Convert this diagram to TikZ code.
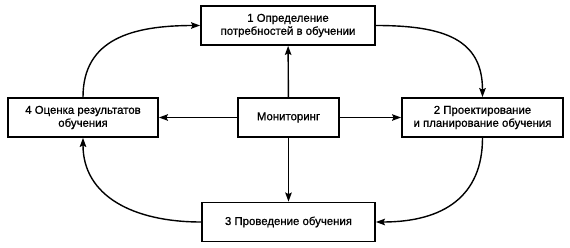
\documentclass[tikz,border=0pt]{standalone}
\usepackage{fontspec}
\setmainfont{Liberation Sans}
\newfontfamily\boxfont[FakeBold=0.9]{Liberation Sans}
\usetikzlibrary{arrows.meta}
\begin{document}
\begin{tikzpicture}[x=1pt,y=-1pt,
  box/.style={draw,line width=1.8pt,minimum height=39pt,align=center,inner sep=2pt,font=\boxfont\fontsize{11.4}{13}\selectfont},
  conn/.style={line width=1.4pt,-{Stealth[length=9pt,width=6.5pt,inset=1.5pt]}}]
\useasboundingbox (0,0) rectangle (570,248);
\node[box,minimum width=174pt] (b1) at (288,25.5) {1 Определение\\потребностей в обучении};
\node[box,minimum width=101pt] (m) at (288.5,117.5) {Мониторинг};
\node[box,minimum width=150pt] (b4) at (83,117.5) {4 Оценка результатов\\обучения};
\node[box,minimum width=161pt] (b2) at (482.5,117.5) {2 Проектирование\\и планирование обучения};
\node[box,minimum width=173pt] (b3) at (288.5,222) {3 Проведение обучения};
\draw[conn] (m) -- (b1);
\draw[conn] (m) -- (b3);
\draw[conn] (m) -- (b4);
\draw[conn] (m) -- (b2);
\draw[conn] (b4.north) .. controls +(0,-58) and +(-68,0) .. (b1.west);
\draw[conn] (b1.east) .. controls +(68,0) and +(0,-58) .. (b2.north);
\draw[conn] (b2.south) .. controls +(0,58) and +(68,0) .. (b3.east);
\draw[conn] (b3.west) .. controls +(-68,0) and +(0,58) .. (b4.south);
\end{tikzpicture}
\end{document}
